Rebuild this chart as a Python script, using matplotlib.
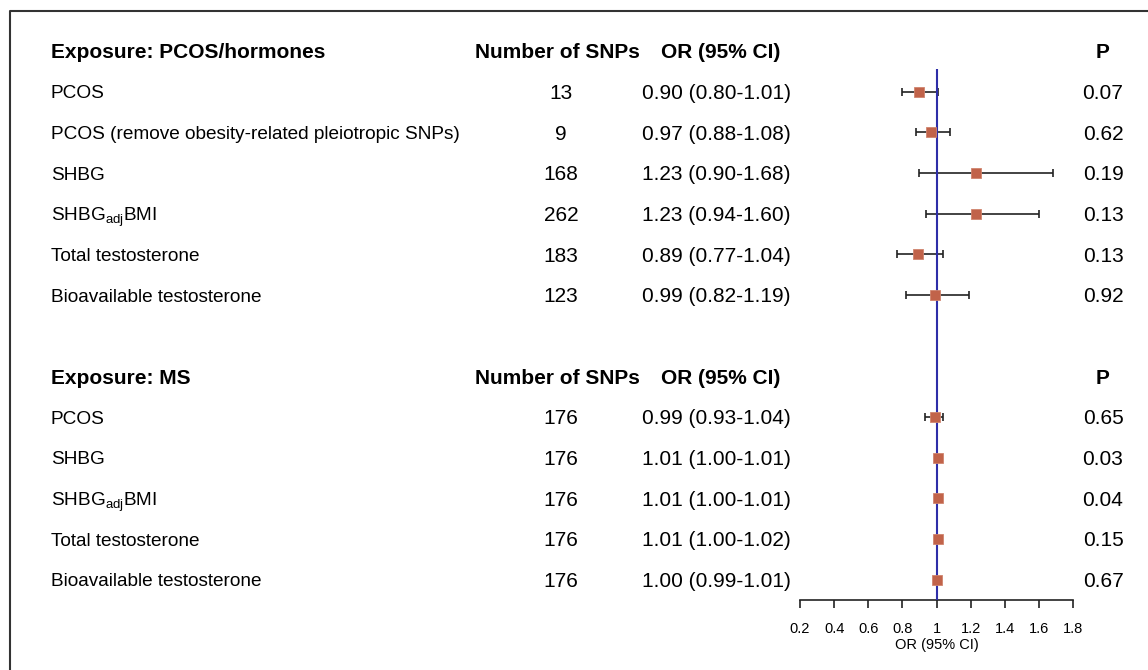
import matplotlib.pyplot as plt
from matplotlib.lines import Line2D
import matplotlib.transforms as mtransforms

plt.rcParams['font.family'] = ['Liberation Sans', 'DejaVu Sans']
plt.rcParams['mathtext.default'] = 'regular'

# Exposure: PCOS/hormones
labels_1 = ["PCOS", "PCOS (remove obesity-related pleiotropic SNPs)", "SHBG",
            "SHBG$_{adj}$BMI", "Total testosterone", "Bioavailable testosterone"]
snps_1 = [13, 9, 168, 262, 183, 123]
or_1 = [0.90, 0.97, 1.23, 1.23, 0.89, 0.99]
lo_1 = [0.80, 0.88, 0.90, 0.94, 0.77, 0.82]
hi_1 = [1.01, 1.08, 1.68, 1.60, 1.04, 1.19]
p_1 = ["0.07", "0.62", "0.19", "0.13", "0.13", "0.92"]

# Exposure: MS
labels_2 = ["PCOS", "SHBG", "SHBG$_{adj}$BMI", "Total testosterone", "Bioavailable testosterone"]
snps_2 = [176, 176, 176, 176, 176]
or_2 = [0.99, 1.01, 1.01, 1.01, 1.00]
lo_2 = [0.93, 1.00, 1.00, 1.00, 0.99]
hi_2 = [1.04, 1.01, 1.01, 1.02, 1.01]
p_2 = ["0.65", "0.03", "0.04", "0.15", "0.67"]

xticks = [0.2, 0.4, 0.6, 0.8, 1.0, 1.2, 1.4, 1.6, 1.8]
xticklabels = ["0.2", "0.4", "0.6", "0.8", "1", "1.2", "1.4", "1.6", "1.8"]

W, H = 1148, 670
fig = plt.figure(figsize=(W / 100, H / 100), dpi=100)

# forest panel: x from 0.2 to 1.8, rows 0..13 top to bottom
ax = fig.add_axes([800 / W, (H - 600) / H, 273 / W, 549 / H])
ax.set_xlim(0.2, 1.8)
ax.set_ylim(13.5, 0)

sections = [
    (0, "Exposure: PCOS/hormones", labels_1, snps_1, or_1, lo_1, hi_1, p_1),
    (8, "Exposure: MS", labels_2, snps_2, or_2, lo_2, hi_2, p_2),
]

tr = mtransforms.blended_transform_factory(fig.transFigure, ax.transData)
fs = 15
fs_lab = 13.7
va = 'center_baseline'
for start, title, labs, snps, ors, los, his, ps in sections:
    fig.text(51 / W, start, title, transform=tr, fontsize=fs, fontweight='bold', va=va)
    fig.text(557 / W, start, "Number of SNPs", transform=tr, fontsize=fs, fontweight='bold',
             ha='center', va=va)
    fig.text(721 / W, start, "OR (95% CI)", transform=tr, fontsize=fs, fontweight='bold',
             ha='center', va=va)
    fig.text(1103 / W, start, "P", transform=tr, fontsize=fs, fontweight='bold',
             ha='center', va=va)
    for i in range(len(labs)):
        y = start + 1 + i
        fig.text(51 / W, y, labs[i], transform=tr, fontsize=fs_lab, va=va)
        fig.text(561 / W, y, str(snps[i]), transform=tr, fontsize=fs, ha='center', va=va)
        fig.text(716 / W, y, f"{ors[i]:.2f} ({los[i]:.2f}-{his[i]:.2f})", transform=tr,
                 fontsize=fs, ha='center', va=va)
        fig.text(1103 / W, y, ps[i], transform=tr, fontsize=fs, ha='center', va=va)
        ax.errorbar(ors[i], y, xerr=[[ors[i] - los[i]], [his[i] - ors[i]]], fmt='none',
                    ecolor='#222222', elinewidth=1.2, capsize=3.2, capthick=1.2, zorder=2)
        ax.plot(ors[i], y, marker='s', markersize=7.5, color='#C1634A',
                markeredgecolor='#D0846E', markeredgewidth=0.6, zorder=4)

ax.vlines(1.0, 0.45, 13.5, color='#2E2EA8', linewidth=1.5, zorder=3)

for side in ['top', 'right', 'left']:
    ax.spines[side].set_visible(False)
ax.spines['bottom'].set_linewidth(1.2)
ax.spines['bottom'].set_color('#222222')
ax.set_yticks([])
ax.set_xticks(xticks)
ax.set_xticklabels(xticklabels, fontsize=10.5)
ax.tick_params(axis='x', length=6, width=1.2, color='#222222', pad=10)
ax.set_xlabel("OR (95% CI)", fontsize=10.5, labelpad=1)
ax.patch.set_visible(False)

# outer frame (open to the right and bottom)
fig.add_artist(Line2D([10 / W, 10 / W, 1.0], [0.0, 1 - 11 / H, 1 - 11 / H],
                      transform=fig.transFigure, color='#333333', linewidth=1.5))

fig.savefig("out.png", dpi=100)
